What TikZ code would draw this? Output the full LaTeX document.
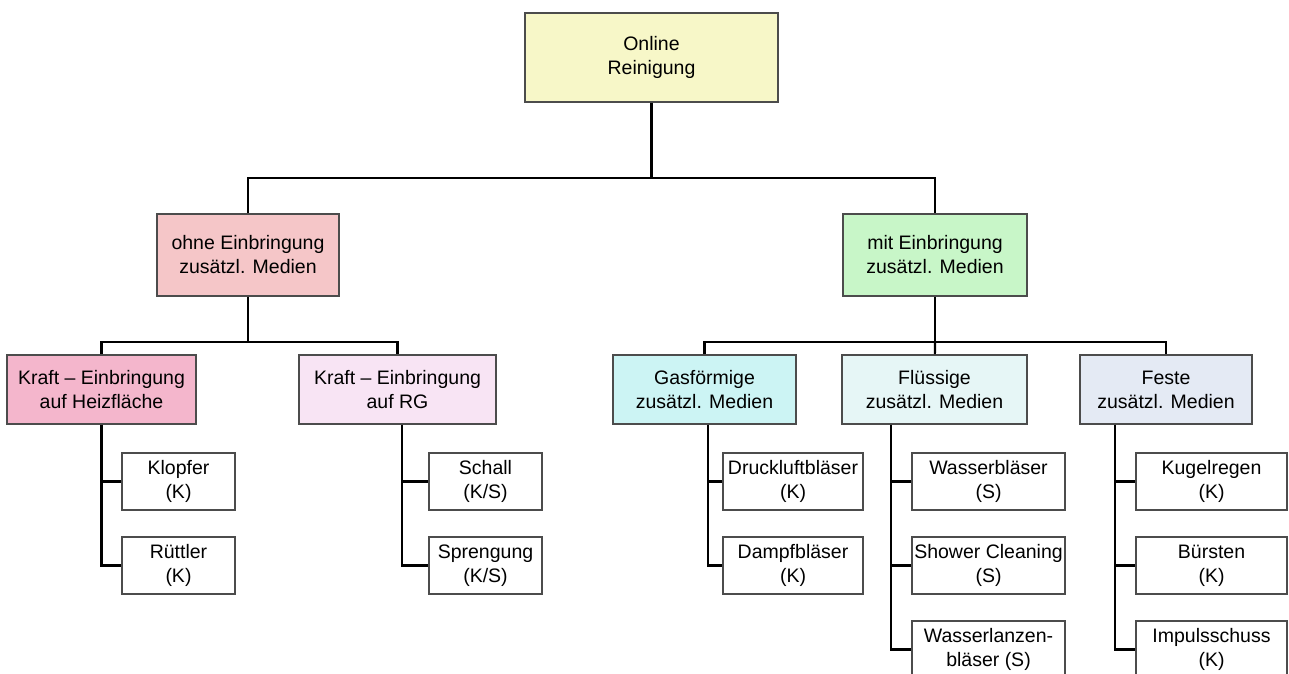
\documentclass[tikz,border=0pt]{standalone}
\usepackage{fontspec}
\setmainfont{Liberation Sans}
\usetikzlibrary{positioning,calc}
\tikzset{every picture/.style={line width=0.75pt}}
\definecolor{rootfill}{HTML}{F7F7C8}
\definecolor{ohnefill}{HTML}{F5C6C8}
\definecolor{mitfill}{HTML}{C8F6C8}
\definecolor{heizfill}{HTML}{F4B6CC}
\definecolor{rgfill}{HTML}{F8E4F4}
\definecolor{gasfill}{HTML}{CCF4F4}
\definecolor{flfill}{HTML}{E6F6F6}
\definecolor{festefill}{HTML}{E4EAF4}

\begin{document}
\begin{tikzpicture}[x=1pt,y=-1pt,
    box/.style={draw=black!70,line width=1.6pt,align=center,inner sep=2pt,font=\fontsize{19.5}{24}\selectfont},
    leaf/.style={box,fill=white,minimum height=57pt},
    link/.style={black,line width=2.2pt}]
    \useasboundingbox (0,0) rectangle (1289,673);

    % Root and first level
    \node[box,fill=rootfill,minimum width=253pt,minimum height=89pt] (root) at (651.5,57.5) {Online\\Reinigung};
    \node[box,fill=ohnefill,minimum width=182pt,minimum height=82pt] (ohne) at (248,255) {ohne Einbringung\\zusätzl. Medien};
    \node[box,fill=mitfill,minimum width=184pt,minimum height=82pt] (mit) at (935,255) {mit Einbringung\\zusätzl. Medien};

    % Second level
    \node[box,fill=heizfill,minimum width=189pt,minimum height=69pt] (heiz) at (101.5,389.5) {Kraft -- Einbringung\\auf Heizfläche};
    \node[box,fill=rgfill,minimum width=197pt,minimum height=69pt] (rg) at (397.5,389.5) {Kraft -- Einbringung\\auf RG};
    \node[box,fill=gasfill,minimum width=183pt,minimum height=69pt] (gas) at (704.5,389.5) {Gasförmige\\zusätzl. Medien};
    \node[box,fill=flfill,minimum width=185pt,minimum height=69pt] (fluessig) at (934.5,389.5) {Flüssige\\zusätzl. Medien};
    \node[box,fill=festefill,minimum width=172pt,minimum height=69pt] (feste) at (1166,389.5) {Feste\\zusätzl. Medien};

    % Leaves
    \node[leaf,minimum width=113pt] (klopfer) at (178.5,481.5) {Klopfer\\(K)};
    \node[leaf,minimum width=113pt] (ruettler) at (178.5,565.5) {Rüttler\\(K)};
    \node[leaf,minimum width=113pt] (schall) at (485.5,481.5) {Schall\\(K/S)};
    \node[leaf,minimum width=113pt] (sprengung) at (485.5,565.5) {Sprengung\\(K/S)};
    \node[leaf,minimum width=140pt] (druckluft) at (793,481.5) {Druckluftbläser\\(K)};
    \node[leaf,minimum width=140pt] (dampf) at (793,565.5) {Dampfbläser\\(K)};
    \node[leaf,minimum width=153pt] (wasser) at (988.5,481.5) {Wasserbläser\\(S)};
    \node[leaf,minimum width=153pt] (shower) at (988.5,565.5) {Shower Cleaning\\(S)};
    \node[leaf,minimum width=153pt] (lanzen) at (988.5,649.5) {Wasserlanzen-\\bläser (S)};
    \node[leaf,minimum width=151pt] (kugel) at (1211.5,481.5) {Kugelregen\\(K)};
    \node[leaf,minimum width=151pt] (buersten) at (1211.5,565.5) {Bürsten\\(K)};
    \node[leaf,minimum width=151pt] (impuls) at (1211.5,649.5) {Impulsschuss\\(K)};

    % Connectors
    \coordinate (j0) at (651.5,178);
    \coordinate (j1) at (248,342);
    \coordinate (j2) at (935,342);
    \draw[link] (root) -- (j0);
    \draw[link] (ohne) |- (j0) -| (mit);
    \draw[link] (ohne) -- (j1);
    \draw[link] (heiz) |- (j1) -| (rg);
    \draw[link] (mit) -- (j2);
    \draw[link] (gas) |- (j2) -| (feste);
    \draw[link] (j2) -- (fluessig);

    \coordinate (theiz) at (heiz.south);
    \coordinate (trg) at ([xshift=4.5pt]rg.south);
    \coordinate (tgas) at ([xshift=3.5pt]gas.south);
    \coordinate (tfl) at ([xshift=-43.5pt]fluessig.south);
    \coordinate (tfe) at ([xshift=-51pt]feste.south);
    \foreach \t/\l in {theiz/klopfer,theiz/ruettler,trg/schall,trg/sprengung,tgas/druckluft,tgas/dampf,
        tfl/wasser,tfl/shower,tfl/lanzen,tfe/kugel,tfe/buersten,tfe/impuls} {
        \draw[link] (\t) |- (\l);
    }
\end{tikzpicture}
\end{document}
